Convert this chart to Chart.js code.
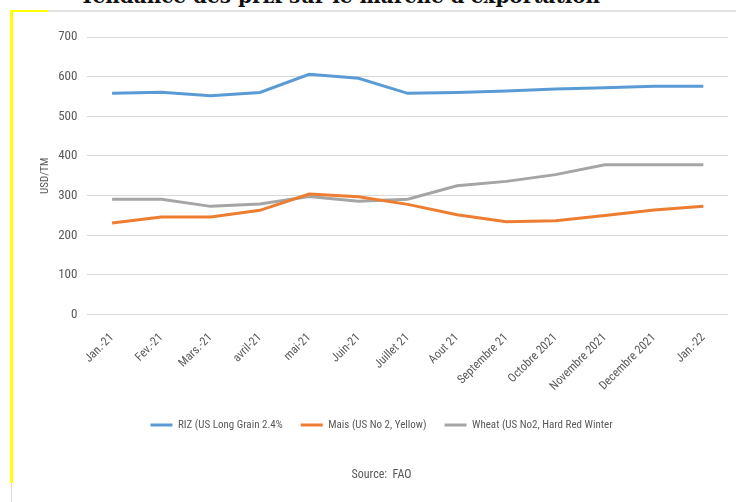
<!DOCTYPE html>
<html>
<head>
<meta charset="utf-8">
<script src="https://cdn.jsdelivr.net/npm/chart.js@4.4.1/dist/chart.umd.min.js"></script>
<style>
  html, body { margin: 0; padding: 0; background: #fff; }
  body { width: 736px; height: 502px; position: relative; overflow: hidden; }
  #doctitle {
    position: absolute; left: 0; width: 680px; top: -16px;
    text-align: center; font: bold 20px "DejaVu Serif", serif; color: #111;
    white-space: nowrap;
  }
  #ruler { position: absolute; left: 35px; right: 0; top: 10px; height: 2px; background: #e3e3e3; }
  #ymark { position: absolute; left: 10px; top: 10px; width: 38px; height: 2px; background: #ffff00; }
  #yline { position: absolute; left: 10px; top: 10px; width: 3px; height: 473px; background: #ffff00; }
  #gline { position: absolute; left: 11px; top: 483px; width: 1px; height: 19px; background: #ddd; }
  #wrap { position: absolute; left: 13px; top: 14px; width: 723px; height: 488px; }
</style>
</head>
<body>
<div id="doctitle">Tendance des prix sur le marché d'exportation</div>
<div id="ruler"></div>
<div id="ymark"></div>
<div id="yline"></div>
<div id="gline"></div>
<div id="wrap"><canvas id="chart"></canvas></div>
<script>
// --- DATA ---
const months = ["Jan.-21", "Fev.-21", "Mars.-21", "avril-21", "mai-21", "Juin-21", "Juillet 21",
  "Aout 21", "Septembre 21", "Octobre 2021", "Novembre 2021", "Decembre 2021", "Jan.-22"];
const riz = [558, 561, 552, 560, 606, 596, 558, 560, 564, 569, 572, 576, 576];
const mais = [231, 246, 246, 263, 304, 297, 278, 252, 234, 237, 250, 264, 273];
const wheat = [291, 291, 273, 279, 298, 286, 291, 325, 336, 353, 378, 378, 378];
const yTicks = [0, 100, 200, 300, 400, 500, 600, 700];

const font = "'Liberation Sans Narrow', 'Roboto Condensed', 'DejaVu Sans Condensed', sans-serif";
const textCol = "#595959";

function line(label, data, color) {
  return {
    label: label,
    data: data,
    borderColor: color,
    backgroundColor: color,
    borderWidth: 3,
    pointRadius: 0,
    tension: 0,
    fill: false
  };
}

new Chart(document.getElementById("chart"), {
  type: "line",
  data: {
    labels: months,
    datasets: [
      line("RIZ (US Long Grain 2.4%", riz, "#5b9bd5"),
      line("Mais (US No 2, Yellow)", mais, "#ed7d31"),
      line("Wheat (US No2, Hard Red Winter", wheat, "#a5a5a5")
    ]
  },
  options: {
    responsive: true,
    maintainAspectRatio: false,
    animation: false,
    layout: { padding: { top: 23, right: 8, left: 22, bottom: 8 } },
    scales: {
      x: {
        offset: true,
        grid: { display: false },
        border: { display: false },
        ticks: { color: textCol, font: { family: font, size: 12 }, maxRotation: 45, minRotation: 45, padding: 8, autoSkip: false }
      },
      y: {
        min: 0,
        max: 700,
        afterBuildTicks: s => { s.ticks = yTicks.map(v => ({ value: v })); },
        grid: { color: "#d9d9d9", lineWidth: 1, drawTicks: false },
        border: { display: false },
        ticks: { color: textCol, font: { family: font, size: 13 }, padding: 10 },
        title: { display: true, text: "USD/TM", color: textCol, font: { family: font, size: 11 }, padding: { top: 4, bottom: -4 } }
      }
    },
    plugins: {
      legend: {
        position: "bottom",
        labels: {
          color: textCol,
          font: { family: font, size: 11 },
          boxWidth: 22,
          boxHeight: 3,
          padding: 18,
          generateLabels: chart => Chart.defaults.plugins.legend.labels.generateLabels(chart)
            .map(l => Object.assign(l, { lineWidth: 0 }))
        }
      },
      title: {
        display: true,
        position: "bottom",
        text: "Source:  FAO",
        color: textCol,
        font: { family: font, size: 12, weight: "normal" },
        padding: { top: 27, bottom: 12 }
      },
      tooltip: { enabled: false }
    }
  }
});
</script>
</body>
</html>
